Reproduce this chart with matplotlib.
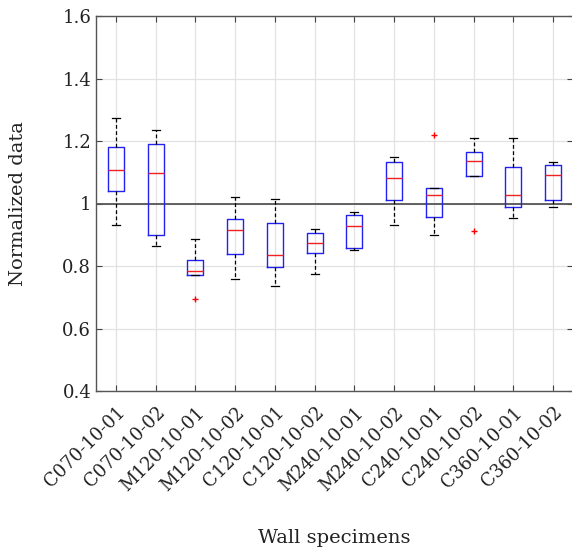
import matplotlib
matplotlib.use("Agg")
import matplotlib.pyplot as plt

plt.rcParams["font.family"] = ["DejaVu Serif"]

specimens = ["C070-10-01", "C070-10-02", "M120-10-01", "M120-10-02",
             "C120-10-01", "C120-10-02", "M240-10-01", "M240-10-02",
             "C240-10-01", "C240-10-02", "C360-10-01", "C360-10-02"]

whis_lo = [0.932, 0.863, 0.772, 0.757, 0.735, 0.775, 0.850, 0.931, 0.899, 1.089, 0.954, 0.990]
q1 = [1.039, 0.899, 0.772, 0.837, 0.798, 0.841, 0.857, 1.010, 0.956, 1.089, 0.988, 1.012]
med = [1.107, 1.097, 0.785, 0.915, 0.834, 0.873, 0.927, 1.082, 1.028, 1.135, 1.028, 1.092]
q3 = [1.180, 1.192, 0.819, 0.951, 0.937, 0.906, 0.964, 1.133, 1.049, 1.165, 1.118, 1.123]
whis_hi = [1.274, 1.235, 0.888, 1.022, 1.013, 0.917, 0.974, 1.150, 1.049, 1.209, 1.211, 1.133]
outliers = [[], [], [0.695], [], [], [], [], [], [1.220], [0.913], [], []]

stats = []
for i in range(len(specimens)):
    stats.append(dict(label=specimens[i], whislo=whis_lo[i], q1=q1[i], med=med[i],
                      q3=q3[i], whishi=whis_hi[i], fliers=outliers[i]))

fig = plt.figure(figsize=(5.72, 5.52), dpi=100)
ax = fig.add_axes([96 / 572, 1 - 391 / 552, 477 / 572, 375 / 552])

ax.bxp(stats, widths=0.4, capwidths=0.2,
       boxprops=dict(color="#2222ee", linewidth=1.0),
       medianprops=dict(color="#ee2222", linewidth=1.0),
       whiskerprops=dict(color="black", linestyle=(0, (3, 2)), linewidth=0.9),
       capprops=dict(color="black", linewidth=0.9),
       flierprops=dict(marker="+", markeredgecolor="red", markersize=5, linestyle="none"))

ax.axhline(1.0, color="#555555", linewidth=1.3, zorder=1)

ax.set_ylim(0.4, 1.6)
ax.set_xlim(0.5, 12.5)
ax.set_yticks([0.4, 0.6, 0.8, 1.0, 1.2, 1.4, 1.6])
ax.set_yticklabels(["0.4", "0.6", "0.8", "1", "1.2", "1.4", "1.6"])
ax.set_xticks(range(1, 13))
ax.set_xticklabels(specimens, rotation=45, ha="right", rotation_mode="anchor")
ax.grid(True, color="#e2e2e2", linewidth=0.9)
ax.set_axisbelow(True)
ax.tick_params(direction="in", top=True, right=True, labelsize=13, colors="#444444",
               labelcolor="#222222", length=4)
ax.tick_params(axis="x", pad=9)
for s in ax.spines.values():
    s.set_color("#555555")
    s.set_linewidth(1.0)

ax.set_ylabel("Normalized data", fontsize=14, color="#222222")
ax.yaxis.set_label_coords(-0.145, 0.5)
ax.set_xlabel("Wall specimens", fontsize=14, color="#222222")
ax.xaxis.set_label_coords(0.5, -0.368)

fig.savefig("out.png", dpi=100)
